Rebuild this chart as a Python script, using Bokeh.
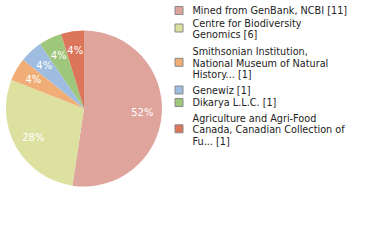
import numpy as np
from bokeh.plotting import figure
from bokeh.models import Range1d, ColumnDataSource
from bokeh.core.properties import value
from bokeh.embed import file_html
from bokeh.resources import INLINE

legend_lines = [["Mined from GenBank, NCBI [11]"],
                ["Centre for Biodiversity", "Genomics [6]"],
                ["Smithsonian Institution,", "National Museum of Natural", "History... [1]"],
                ["Genewiz [1]"],
                ["Dikarya L.L.C. [1]"],
                ["Agriculture and Agri-Food", "Canada, Canadian Collection of", "Fu... [1]"]]
counts = [11, 6, 1, 1, 1, 1]
colors = ["#dfa59d", "#dce1a0", "#f0ae76", "#9ebde1", "#9fc77b", "#dc765a"]

W, H = 380, 240
p = figure(width=W, height=H, output_backend="svg", toolbar_location=None,
           x_range=Range1d(0, W), y_range=Range1d(H, 0), min_border=0)
p.axis.visible = False
p.grid.visible = False
p.outline_line_color = None

cx, cy, r = 83.5, 108, 78
vals = np.array(counts, dtype=float)
frac = vals / vals.sum()
cum = np.concatenate([[0], np.cumsum(frac)])
# wedge angles are screen angles (counter-clockwise from +x, y up on screen)
start = np.pi / 2 - cum[1:] * 2 * np.pi
end = np.pi / 2 - cum[:-1] * 2 * np.pi
src = ColumnDataSource(dict(start=start, end=end, color=colors))
p.wedge(x=cx, y=cy, radius=r, start_angle="start", end_angle="end",
        direction="anticlock", fill_color="color", line_color=None, source=src)

# label positions in data coords (y down)
mid_frac = (cum[:-1] + cum[1:]) / 2
ang = mid_frac * 2 * np.pi
pct = [f"{int(np.floor(f * 100))}%" for f in frac]
lr = 0.75 * r
p.text(x=cx + lr * np.sin(ang), y=cy - lr * np.cos(ang), text=pct,
       text_color="white", text_font=value("DejaVu Sans"), text_font_size="10px",
       text_align="center", text_baseline="middle")

# legend layout
lh = 11.6
first_y = [10, 22.5, 51, 89.5, 102, 117.5]
sq_x, sq_y, tx, ty = [], [], [], []
ttext = []
for lines, y in zip(legend_lines, first_y):
    n = len(lines)
    for i, ln in enumerate(lines):
        tx.append(192)
        ty.append(y + i * lh)
        ttext.append(ln)
    sq_x.append(178.5)
    sq_y.append(y + (n - 1) * lh / 2 - (0.8 if n > 1 else 0))
p.rect(x=sq_x, y=sq_y, width=8, height=8, fill_color=colors, line_color="#888888", line_width=1)
p.text(x=tx, y=ty, text=ttext, text_color="#222222", text_font=value("DejaVu Sans"),
       text_font_size="9.7px", text_baseline="middle", text_align="left")

open("out.html", "w").write(file_html(p, INLINE))
